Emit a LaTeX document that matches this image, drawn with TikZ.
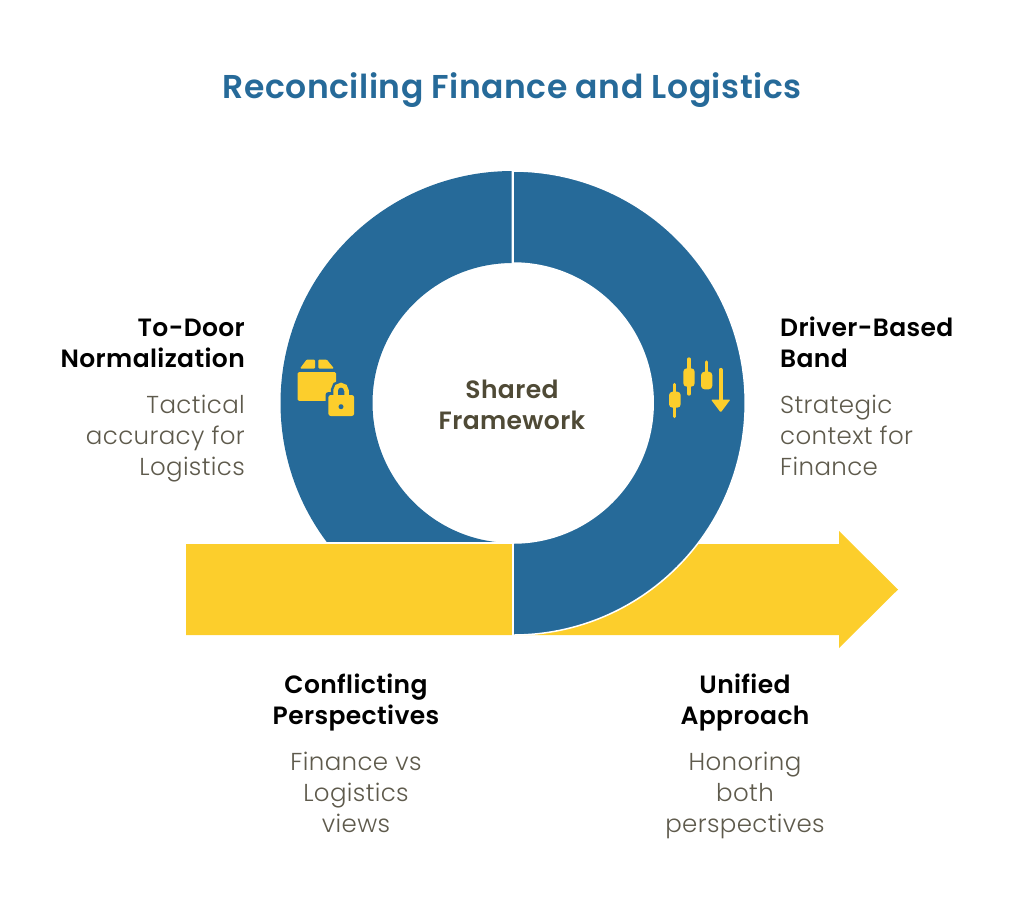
\documentclass[tikz,border=0pt]{standalone}
\usepackage{fontspec}
\setmainfont{Poppins}
\newfontfamily\headfont[LetterSpace=1.5]{Poppins SemiBold}
\newfontfamily\bodyfont[LetterSpace=1.5]{Poppins Light}
\usepackage{xcolor}
\usetikzlibrary{positioning}
\definecolor{ringblue}{RGB}{38,106,153}
\definecolor{bandyellow}{RGB}{252,206,44}
\definecolor{headdark}{RGB}{0,0,0}
\definecolor{bodygray}{RGB}{94,90,76}
\definecolor{centerolive}{RGB}{79,74,54}
\tikzset{heading/.style={
    inner sep=0pt,
    font=\fontsize{25}{31}\selectfont\headfont,
    text=headdark,
    execute at begin node=\strut,
    execute at end node=\strut
}}
\tikzset{bodytext/.style={
    inner sep=0pt,
    font=\fontsize{24.5}{31}\selectfont\bodyfont,
    text=bodygray,
    execute at begin node=\strut,
    execute at end node=\strut
}}
\tikzset{icon/.style={fill=bandyellow, draw=none}}
\tikzset{wick/.style={draw=bandyellow, line width=3.3pt, line cap=round}}

\begin{document}
\begin{tikzpicture}[x=1pt, y=-1pt]
    \useasboundingbox (0,0) rectangle (1024,900);
    % Band and arrow
    \fill[bandyellow] (186,544) -- (839,544) -- (839,531) -- (898,589.5)
        -- (839,648) -- (839,635) -- (186,635) -- cycle;
    % Left half of the ring, cut above the band
    \begin{scope}
        \clip (200,160) rectangle (511.7,541.5);
        \fill[ringblue, even odd rule] (512.5,403) circle[radius=232]
            (512.5,403) circle[radius=140];
    \end{scope}
    % Right half of the ring
    \fill[ringblue, draw=white, line width=1.5pt]
        (513.2,171) arc[start angle=-90, end angle=90, radius=232]
        -- (513.2,543) arc[start angle=90, end angle=-90, radius=140] -- cycle;
    \draw[white, line width=1.5pt] (512.4,171) -- (512.4,263);
    \draw[white, line width=1.5pt] (512.4,543) -- (512.4,636);
    % Parcel and lock
    \fill[icon, rounded corners=1.5pt] (297.5,372) rectangle (336.2,400.8);
    \fill[icon, rounded corners=1pt] (300,368.5) -- (306.7,359.5) -- (315,359.5) -- (315,368.5) -- cycle;
    \fill[icon, rounded corners=1pt] (318.3,368.5) -- (318.3,359.5) -- (326.7,359.5) -- (334,368.5) -- cycle;
    \fill[ringblue, rounded corners=3pt] (325.5,392) rectangle (357,419);
    \draw[ringblue, line width=9.5pt] (335.5,397) -- (335.5,390.5) arc[start angle=180, end angle=360, radius=5.5] -- (346.5,397);
    \fill[icon, rounded corners=2.5pt] (328.3,395) rectangle (354.2,416);
    \draw[bandyellow, line width=4.5pt] (335.5,397) -- (335.5,390.5) arc[start angle=180, end angle=360, radius=5.5] -- (346.5,397);
    \fill[ringblue] (341,406.7) circle[radius=2.5];
    % Candles and falling arrow
    \draw[wick] (674.8,384.5) -- (674.8,416.5);
    \fill[icon, rounded corners=3.5pt] (669,391.7) rectangle (680.7,407.7);
    \draw[wick] (689,359) -- (689,394);
    \fill[icon, rounded corners=3.5pt] (683.3,368.3) rectangle (694.7,386.7);
    \draw[wick] (706.7,362) -- (706.7,380);
    \fill[icon, rounded corners=3.5pt] (701,371.7) rectangle (712.3,389.3);
    \draw[draw=bandyellow, line width=4.4pt, line cap=round] (720.7,370) -- (720.7,402);
    \fill[icon, rounded corners=1pt] (711,399.5) -- (730.4,399.5) -- (720.7,412.5) -- cycle;
    % Texts
    \node (title) at (512,90) [font=\fontsize{33}{36}\selectfont\headfont, text=ringblue, inner sep=0pt] {Reconciling Finance and Logistics};
    \node (shared) at (512,409) [heading, text=centerolive, align=center] {Shared\\Framework};

    \node (door) [heading, align=right, anchor=north east] at (245,319) {To-Door\\Normalization};
    \node (doorbody) [bodytext, align=right, below=18pt of door.south east, anchor=north east] {Tactical\\accuracy for\\Logistics};

    \node (driver) [heading, align=left, anchor=north west] at (780,317) {Driver-Based\\Band};
    \node (driverbody) [bodytext, align=left, below=18pt of driver.south west, anchor=north west] {Strategic\\context for\\Finance};

    \node (conflict) [heading, align=center, anchor=north] at (356,674) {Conflicting\\Perspectives};
    \node (conflictbody) [bodytext, align=center, below=18pt of conflict] {Finance vs\\Logistics\\views};

    \node (unified) [heading, align=center, anchor=north] at (745,674) {Unified\\Approach};
    \node (unifiedbody) [bodytext, align=center, below=18pt of unified] {Honoring\\both\\perspectives};
\end{tikzpicture}
\end{document}
